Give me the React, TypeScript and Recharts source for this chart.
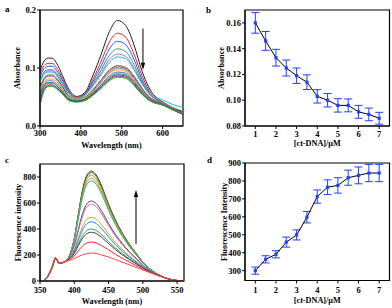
import React from 'react';
import {
  LineChart,
  Line,
  XAxis,
  YAxis,
  ReferenceArea,
  ReferenceLine,
  ReferenceDot,
  ErrorBar,
  Label,
} from 'recharts';

// panel a: UV-vis titration spectra
const absWave = [300, 310, 320, 330, 340, 355, 370, 390, 410, 430, 450, 470, 490, 510, 530, 550, 570, 600, 625, 650];
const absCurves = [
  [0.095, 0.112, 0.117, 0.117, 0.109, 0.087, 0.064, 0.051, 0.058, 0.088, 0.124, 0.163, 0.182, 0.173, 0.140, 0.094, 0.062, 0.041, 0.028, 0.020],
  [0.090, 0.104, 0.108, 0.108, 0.101, 0.082, 0.061, 0.050, 0.056, 0.081, 0.112, 0.145, 0.160, 0.153, 0.124, 0.086, 0.058, 0.041, 0.029, 0.021],
  [0.085, 0.099, 0.103, 0.103, 0.096, 0.079, 0.059, 0.049, 0.055, 0.077, 0.104, 0.133, 0.146, 0.140, 0.115, 0.080, 0.055, 0.041, 0.030, 0.022],
  [0.080, 0.093, 0.097, 0.097, 0.091, 0.075, 0.057, 0.049, 0.054, 0.073, 0.097, 0.122, 0.133, 0.128, 0.106, 0.076, 0.054, 0.041, 0.031, 0.024],
  [0.077, 0.091, 0.095, 0.095, 0.089, 0.073, 0.056, 0.048, 0.053, 0.071, 0.092, 0.115, 0.124, 0.120, 0.100, 0.073, 0.053, 0.042, 0.032, 0.026],
  [0.075, 0.089, 0.093, 0.093, 0.088, 0.072, 0.055, 0.048, 0.053, 0.069, 0.089, 0.110, 0.119, 0.116, 0.097, 0.072, 0.054, 0.045, 0.037, 0.032],
  [0.066, 0.082, 0.088, 0.088, 0.083, 0.068, 0.052, 0.046, 0.050, 0.063, 0.080, 0.097, 0.104, 0.101, 0.086, 0.065, 0.049, 0.040, 0.031, 0.025],
  [0.064, 0.080, 0.086, 0.086, 0.081, 0.067, 0.051, 0.045, 0.049, 0.062, 0.079, 0.095, 0.102, 0.099, 0.084, 0.064, 0.048, 0.040, 0.031, 0.025],
  [0.058, 0.073, 0.078, 0.078, 0.074, 0.062, 0.048, 0.043, 0.047, 0.059, 0.076, 0.092, 0.100, 0.097, 0.082, 0.062, 0.047, 0.038, 0.029, 0.022],
  [0.062, 0.076, 0.081, 0.081, 0.077, 0.064, 0.050, 0.046, 0.049, 0.060, 0.076, 0.091, 0.097, 0.094, 0.080, 0.061, 0.047, 0.039, 0.031, 0.026],
  [0.056, 0.070, 0.075, 0.075, 0.071, 0.059, 0.047, 0.043, 0.046, 0.057, 0.072, 0.087, 0.093, 0.091, 0.077, 0.059, 0.046, 0.038, 0.030, 0.024],
  [0.052, 0.069, 0.074, 0.074, 0.070, 0.059, 0.047, 0.043, 0.046, 0.056, 0.070, 0.084, 0.090, 0.088, 0.075, 0.058, 0.045, 0.038, 0.030, 0.025],
  [0.045, 0.066, 0.071, 0.071, 0.067, 0.057, 0.045, 0.042, 0.045, 0.055, 0.068, 0.082, 0.088, 0.086, 0.073, 0.056, 0.044, 0.037, 0.029, 0.023],
  [0.040, 0.063, 0.069, 0.069, 0.066, 0.056, 0.045, 0.042, 0.044, 0.054, 0.067, 0.080, 0.086, 0.084, 0.071, 0.055, 0.043, 0.036, 0.028, 0.022],
  [0.035, 0.060, 0.068, 0.068, 0.064, 0.055, 0.044, 0.041, 0.044, 0.053, 0.065, 0.078, 0.084, 0.082, 0.070, 0.054, 0.043, 0.036, 0.028, 0.022],
];
const absColors = ['#222222', '#ff2020', '#1060ff', '#20a060', '#c060e0', '#00c8d0', '#806020', '#9040a0', '#808080', '#f0a000', '#3070f0', '#008080', '#e03030', '#304080', '#30b030'];

// panel c: fluorescence titration spectra
const flWave = [355, 362, 368, 373, 378, 385, 392, 400, 406, 412, 418, 425, 432, 440, 450, 460, 470, 480, 490, 500, 515, 530, 545, 560];
const flCurves = [
  [0, 40, 110, 178, 135, 145, 185, 330, 520, 700, 810, 845, 815, 730, 590, 470, 370, 285, 215, 145, 75, 30, 6, 0],
  [0, 40, 110, 178, 135, 145, 185, 327, 515, 692, 800, 835, 805, 722, 584, 465, 366, 282, 213, 144, 75, 30, 6, 0],
  [0, 40, 110, 178, 135, 145, 184, 322, 504, 676, 781, 815, 786, 705, 571, 455, 359, 277, 210, 142, 74, 30, 6, 0],
  [0, 40, 110, 178, 135, 145, 183, 316, 491, 657, 758, 790, 763, 684, 555, 443, 350, 271, 205, 140, 73, 30, 6, 0],
  [0, 40, 110, 178, 135, 145, 182, 311, 480, 641, 739, 770, 743, 667, 542, 434, 343, 266, 202, 138, 73, 30, 6, 0],
  [0, 40, 110, 178, 135, 145, 175, 272, 399, 518, 591, 615, 595, 537, 442, 359, 288, 227, 175, 123, 68, 29, 7, 0],
  [0, 40, 110, 178, 135, 145, 174, 266, 386, 498, 567, 590, 571, 515, 426, 346, 279, 220, 170, 121, 67, 29, 7, 0],
  [0, 40, 110, 178, 135, 145, 170, 241, 333, 420, 473, 490, 476, 432, 362, 298, 243, 195, 153, 111, 64, 29, 7, 0],
  [0, 40, 110, 178, 135, 145, 168, 232, 314, 392, 439, 455, 442, 402, 339, 281, 231, 186, 147, 108, 63, 29, 7, 0],
  [0, 40, 110, 178, 135, 145, 166, 218, 286, 348, 387, 400, 389, 356, 304, 255, 211, 172, 137, 103, 61, 29, 7, 0],
  [0, 40, 110, 178, 135, 145, 165, 212, 272, 328, 363, 375, 365, 335, 288, 242, 202, 166, 133, 100, 60, 29, 7, 0],
  [0, 40, 110, 178, 135, 145, 162, 193, 233, 269, 292, 300, 293, 272, 240, 206, 175, 147, 120, 93, 58, 28, 8, 0],
  [0, 40, 110, 178, 135, 145, 158, 172, 188, 202, 211, 215, 212, 200, 185, 165, 145, 125, 105, 85, 55, 28, 8, 0],
];
const flColors = ['#303a30', '#4f6f2f', '#8a9a20', '#ff7f00', '#00c0c0', '#803030', '#b070d0', '#e0a000', '#2080ff', '#30a060', '#404040', '#ff2020', '#ff4040'];

// panels b and d: vs [ct-DNA]
const dnaConc = [1, 1.5, 2, 2.5, 3, 3.5, 4, 4.5, 5, 5.5, 6, 6.5, 7];
const absPeak = [0.160, 0.146, 0.133, 0.125, 0.119, 0.114, 0.103, 0.100, 0.096, 0.096, 0.091, 0.089, 0.086];
const absErr = [0.008, 0.0073, 0.0065, 0.0062, 0.006, 0.0057, 0.0052, 0.0052, 0.0052, 0.005, 0.005, 0.0049, 0.0046];
const flPeak = [300, 363, 391, 459, 499, 598, 713, 765, 775, 818, 831, 844, 844];
const flErr = [20, 20, 20, 28, 28, 32, 37, 41, 43, 42, 47, 48, 48];

const FONT = '"Liberation Serif", "Times New Roman", serif';
const BLUE = '#2040ff';
const tickStyle = { fontSize: 8.5, fill: '#000', fontFamily: FONT, fontWeight: 700 };

const absRows = absWave.map((w, i) => {
  const r: Record<string, number> = { w };
  absCurves.forEach((c, k) => (r['s' + k] = c[i]));
  return r;
});
const flRows = flWave.map((w, i) => {
  const r: Record<string, number> = { w };
  flCurves.forEach((c, k) => (r['s' + k] = c[i]));
  return r;
});
const absDna = dnaConc.map((x, i) => ({ x, y: absPeak[i], err: absErr[i] }));
const flDna = dnaConc.map((x, i) => ({ x, y: flPeak[i], err: flErr[i] }));

const yTitle = (text: string, dx: number) => (props: any) => {
  const { x, y, height } = props.viewBox;
  const cx = x + dx;
  const cy = y + height / 2;
  return (
    <text x={cx} y={cy} transform={`rotate(-90 ${cx} ${cy})`} textAnchor="middle" dominantBaseline="central"
      fontFamily={FONT} fontWeight={700} fontSize={8.2} fill="#000">{text}</text>
  );
};
const xTitle = (text: string, dy: number) => (props: any) => {
  const { x, y, width } = props.viewBox;
  return (
    <text x={x + width / 2} y={y + dy} textAnchor="middle" dominantBaseline="central"
      fontFamily={FONT} fontWeight={700} fontSize={8.2} fill="#000">{text}</text>
  );
};

const squareDot = (p: any) => (
  <rect key={p.index} x={p.cx - 1.6} y={p.cy - 1.6} width={3.2} height={3.2} fill={BLUE} />
);
const arrowDown = (p: any) => (
  <path d={`M${p.cx - 2.2},${p.cy - 7} L${p.cx + 2.2},${p.cy - 7} L${p.cx},${p.cy} Z`} fill="#000" />
);
const arrowUp = (p: any) => (
  <path d={`M${p.cx - 2.2},${p.cy + 7} L${p.cx + 2.2},${p.cy + 7} L${p.cx},${p.cy} Z`} fill="#000" />
);

const axisProps = {
  axisLine: { stroke: '#000', strokeWidth: 1 },
  tickLine: { stroke: '#000' },
  tickSize: 3,
  tick: tickStyle,
};

function Panel({ left, top, children }: { left: number; top: number; children: React.ReactNode }) {
  return <div style={{ position: 'absolute', left, top }}>{children}</div>;
}

export default function App() {
  return (
    <div style={{ position: 'absolute', left: 0, top: 0, width: 392, height: 308, background: '#fff' }}>
      <Panel left={0} top={0}>
        <LineChart width={196} height={154} data={absRows} margin={{ top: 10, right: 13, bottom: 0, left: 0 }}>
          <XAxis dataKey="w" type="number" domain={[300, 650]} ticks={[300, 400, 500, 600]} height={28} {...axisProps} tickMargin={1}>
            <Label content={xTitle('Wavelength (nm)', 19)} />
          </XAxis>
          <YAxis type="number" domain={[0, 0.2]} ticks={[0, 0.1, 0.2]} tickFormatter={(v: number) => v.toFixed(1)} width={40} {...axisProps} tickMargin={1} allowDataOverflow>
            <Label content={yTitle('Absorbance', 17)} />
          </YAxis>
          <ReferenceArea x1={300} x2={650} y1={0} y2={0.2} fill="none" stroke="#000" strokeWidth={1.2} ifOverflow="visible" />
          {absCurves.map((_, k) => (
            <Line key={k} dataKey={'s' + k} type="monotone" stroke={absColors[k]} strokeWidth={1} dot={false} isAnimationActive={false} />
          ))}
          <ReferenceLine segment={[{ x: 552, y: 0.168 }, { x: 552, y: 0.103 }]} stroke="#000" strokeWidth={1} />
          <ReferenceDot x={552} y={0.097} shape={arrowDown} />
        </LineChart>
      </Panel>

      <Panel left={196} top={0}>
        <LineChart width={196} height={154} data={absDna} margin={{ top: 10, right: 2.5, bottom: 0, left: 0 }}>
          <XAxis dataKey="x" type="number" domain={[0.5, 7.5]} ticks={[1, 2, 3, 4, 5, 6, 7]} height={28} {...axisProps} tickMargin={2}>
            <Label content={xTitle('[ct-DNA]/μM', 17)} />
          </XAxis>
          <YAxis type="number" domain={[0.08, 0.17]} ticks={[0.08, 0.1, 0.12, 0.14, 0.16]} tickFormatter={(v: number) => v.toFixed(2)} width={49} {...axisProps} tickMargin={1} allowDataOverflow>
            <Label content={yTitle('Absorbance', 25)} />
          </YAxis>
          <ReferenceArea x1={0.5} x2={7.5} y1={0.08} y2={0.17} fill="none" stroke="#000" strokeWidth={1.2} ifOverflow="visible" />
          <Line dataKey="y" stroke="#000" strokeWidth={1} dot={squareDot} isAnimationActive={false}>
            <ErrorBar dataKey="err" direction="y" width={4} stroke={BLUE} strokeWidth={1} />
          </Line>
        </LineChart>
      </Panel>

      <Panel left={0} top={154}>
        <LineChart width={196} height={154} data={flRows} margin={{ top: 10, right: 12, bottom: 0, left: 0 }}>
          <XAxis dataKey="w" type="number" domain={[350, 560]} ticks={[350, 400, 450, 500, 550]} height={27} {...axisProps} tickMargin={3}>
            <Label content={xTitle('Wavelength (nm)', 20)} />
          </XAxis>
          <YAxis type="number" domain={[0, 900]} ticks={[0, 200, 400, 600, 800]} width={40} {...axisProps} tickMargin={1} allowDataOverflow>
            <Label content={yTitle('Fluorescence intensity', 18)} />
          </YAxis>
          <ReferenceArea x1={350} x2={560} y1={0} y2={900} fill="none" stroke="#000" strokeWidth={1.2} ifOverflow="visible" />
          {flCurves.map((_, k) => (
            <Line key={k} dataKey={'s' + k} type="monotone" stroke={flColors[k]} strokeWidth={1} dot={false} isAnimationActive={false} />
          ))}
          <ReferenceLine segment={[{ x: 490, y: 285 }, { x: 490, y: 650 }]} stroke="#000" strokeWidth={1} />
          <ReferenceDot x={490} y={700} shape={arrowUp} />
        </LineChart>
      </Panel>

      <Panel left={196} top={154}>
        <LineChart width={196} height={154} data={flDna} margin={{ top: 9, right: 2.5, bottom: 0, left: 0 }}>
          <XAxis dataKey="x" type="number" domain={[0.5, 7.5]} ticks={[1, 2, 3, 4, 5, 6, 7]} height={27.5} {...axisProps} tickMargin={3}>
            <Label content={xTitle('[ct-DNA]/μM', 20)} />
          </XAxis>
          <YAxis type="number" domain={[245, 900]} ticks={[300, 400, 500, 600, 700, 800, 900]} width={49} {...axisProps} tickMargin={1} allowDataOverflow>
            <Label content={yTitle('Fluorescence Intensity', 28)} />
          </YAxis>
          <ReferenceArea x1={0.5} x2={7.5} y1={245} y2={900} fill="none" stroke="#000" strokeWidth={1.2} ifOverflow="visible" />
          <Line dataKey="y" stroke="#000" strokeWidth={1} dot={squareDot} isAnimationActive={false}>
            <ErrorBar dataKey="err" direction="y" width={4} stroke={BLUE} strokeWidth={1} />
          </Line>
        </LineChart>
      </Panel>

      <svg width={392} height={308} style={{ position: 'absolute', left: 0, top: 0, pointerEvents: 'none' }}>
        <g fontFamily={FONT} fontWeight={700} fontSize={9} fill="#000">
          <text x={5} y={12}>a</text>
          <text x={206} y={13}>b</text>
          <text x={5} y={163}>c</text>
          <text x={207} y={163}>d</text>
        </g>
      </svg>
    </div>
  );
}
